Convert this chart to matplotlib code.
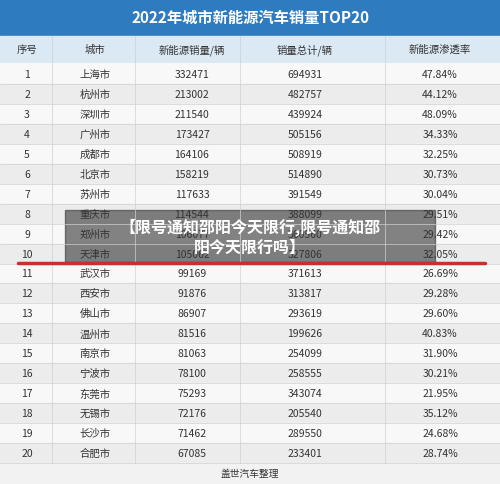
import matplotlib.pyplot as plt
from matplotlib.patches import Rectangle

plt.rcParams['font.family'] = ['Noto Sans CJK SC', 'DejaVu Sans']

title = '2022年城市新能源汽车销量TOP20'
headers = ['序号', '城市', '新能源销量/辆', '销量总计/辆', '新能源渗透率']
cities = ['上海市', '杭州市', '深圳市', '广州市', '成都市', '北京市', '苏州市', '重庆市', '郑州市', '天津市',
          '武汉市', '西安市', '佛山市', '温州市', '南京市', '宁波市', '东莞市', '无锡市', '长沙市', '合肥市']
nev_sales = [332471, 213002, 211540, 173427, 164106, 158219, 117633, 114544, 106077, 105062,
             99169, 91876, 86907, 81516, 81063, 78100, 75293, 72176, 71462, 67085]
total_sales = [694931, 482757, 439924, 505156, 508919, 514890, 391549, 388099, 360560, 327806,
               371613, 313817, 293619, 199626, 254099, 258555, 343074, 205540, 289550, 233401]
rates = ['47.84%', '44.12%', '48.09%', '34.33%', '32.25%', '30.73%', '30.04%', '29.51%', '29.42%', '32.05%',
         '26.69%', '29.28%', '29.60%', '40.83%', '31.90%', '30.21%', '21.95%', '35.12%', '24.68%', '28.74%']
overlay = '【限号通知邵阳今天限行,限号通知邵\n阳今天限行吗】'
footer = '盖世汽车整理'

W, H = 500, 485
fig = plt.figure(figsize=(5, 4.85), dpi=100)
ax = fig.add_axes([0, 0, 1, 1])
ax.set_xlim(0, W)
ax.set_ylim(H, 0)
ax.axis('off')

ax.add_patch(Rectangle((0, 0), W, 37, color='#2f7bbf'))
ax.text(250, 18, title, ha='center', va='center', color='white', fontsize=11, fontweight='bold')
ax.add_patch(Rectangle((0, 37), W, 26, color='#dbe9f5'))
xs = [27, 95, 192, 305, 440]
for x, h in zip(xs, headers):
    ax.text(x, 50, h, ha='center', va='center', fontsize=7.5, color='#333333')

y0, rh = 65, 19.95
for i in range(20):
    top = y0 + i * rh
    cy = top + rh / 2
    ax.add_patch(Rectangle((0, top), W, rh, color='#ececec' if i % 2 else '#f8f8f8'))
    ax.plot([0, W], [top + rh, top + rh], color='#d0d0d0', lw=0.5)
    vals = [str(i + 1), cities[i], str(nev_sales[i]), str(total_sales[i]), rates[i]]
    for x, v in zip(xs, vals):
        ax.text(x, cy, v, ha='center', va='center', fontsize=7.5, color='#333333')
for x in [52, 135, 240, 385]:
    ax.plot([x, x], [37, y0 + 20 * rh], color='#d0d0d0', lw=0.5)

ax.add_patch(Rectangle((0, y0 + 20 * rh), W, H - y0 - 20 * rh, color='#f2f2f2'))
ax.text(250, (y0 + 20 * rh + H) / 2, footer, ha='center', va='center', fontsize=7, color='#333333')

ax.plot([18, 485], [264, 264], color='#c8302a', lw=2.5, solid_capstyle='round')
ax.add_patch(Rectangle((65, 211), 370, 52, color='#333333', alpha=0.6))
ax.text(250, 237, overlay, ha='center', va='center', fontsize=11.5, fontweight='bold',
        color='white', linespacing=1.25)

fig.savefig('out.png', dpi=100)
